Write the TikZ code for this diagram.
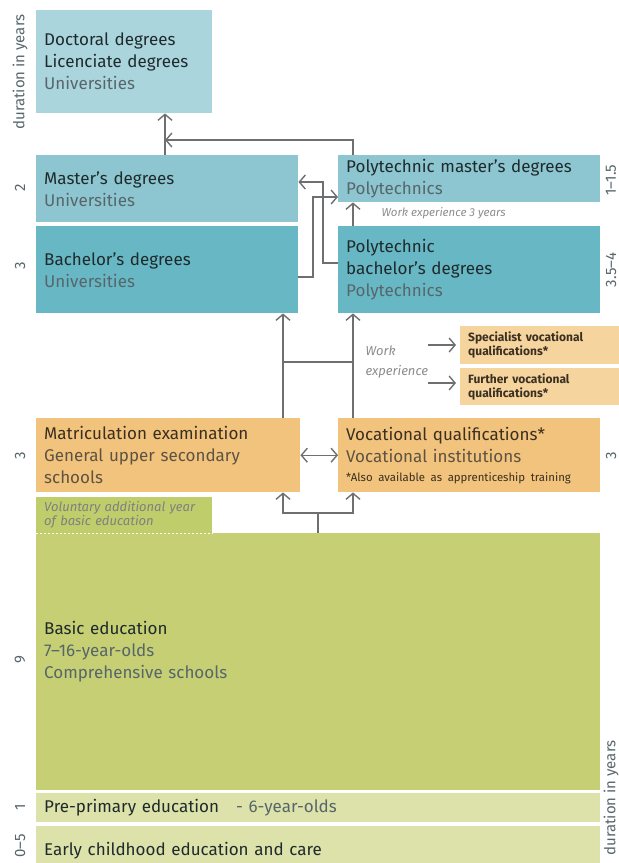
\documentclass[tikz,border=0pt]{standalone}
\usepackage{fontspec}
\setmainfont{Fira Sans}
\usetikzlibrary{arrows.meta,positioning,calc}
\definecolor{EduPale}{HTML}{ABD5DD}
\definecolor{EduBlue}{HTML}{8DC6D0}
\definecolor{EduTeal}{HTML}{67B8C4}
\definecolor{EduOrange}{HTML}{F1C37C}
\definecolor{EduSand}{HTML}{F5D49D}
\definecolor{EduOlive}{HTML}{C6CF73}
\definecolor{EduMoss}{HTML}{BFCD6A}
\definecolor{EduLime}{HTML}{DCE2A9}
\definecolor{EduInk}{HTML}{1F2A2C}
\definecolor{EduMuted}{HTML}{56666A}
\definecolor{EduBark}{HTML}{3B2F22}
\definecolor{EduClay}{HTML}{5E5343}
\definecolor{EduLine}{HTML}{6E6F71}
\newcommand{\inst}[2][EduMuted]{{\color{#1}#2}}

\begin{document}
\begin{tikzpicture}[
    x=1pt, y=-1pt,
    stage/.style={
      fill=#1,
      anchor=north west,
      inner xsep=8pt,
      inner ysep=0pt,
      align=left,
      text=EduInk,
      font=\fontsize{17}{22}\selectfont
    },
    years/.style={
      rotate=90,
      font=\fontsize{15}{15}\selectfont,
      text=EduMuted
    },
    note/.style={
      font=\itshape\fontsize{13}{20}\selectfont,
      text=black!45,
      align=left
    },
    link/.style={
      -{Straight Barb[length=6pt,width=14pt]},
      line width=1.4pt,
      color=EduLine
    },
    plain/.style={
      line width=1.4pt,
      color=EduLine
    }
  ]
  \useasboundingbox (0,0) rectangle (619,863);
  \clip (0,0) rectangle (619,863);

  % higher education
  \node[stage=EduPale, text width=160pt, minimum height=103pt] (doct) at (36,10)
    {Doctoral degrees\\Licenciate degrees\\\inst{Universities}};
  \node[stage=EduBlue, text width=246pt, minimum height=67pt] (master) at (36,155)
    {Master’s degrees\\\inst{Universities}};
  \node[stage=EduTeal, text width=246pt, minimum height=87pt] (bach) at (36,226)
    {Bachelor’s degrees\\\inst{Universities}};
  \node[stage=EduBlue, text width=246pt, minimum height=47pt] (pmaster) at (338,155)
    {Polytechnic master’s degrees\\\inst{Polytechnics}};
  \node[stage=EduTeal, text width=246pt, minimum height=87pt] (pbach) at (338,226)
    {Polytechnic\\bachelor’s degrees\\\inst{Polytechnics}};

  % further vocational
  \node[stage=EduSand, text width=154pt, minimum height=38pt, text=EduBark,
        font=\bfseries\fontsize{12}{14}\selectfont] (spec) at (460,326)
    {Specialist vocational\\qualifications*};
  \node[stage=EduSand, text width=154pt, minimum height=37pt, text=EduBark,
        font=\bfseries\fontsize{12}{14}\selectfont] (further) at (460,368)
    {Further vocational\\qualifications*};

  % upper secondary
  \node[stage=EduOrange, text width=248pt, minimum height=74pt, text=EduBark] (matric) at (36,418)
    {Matriculation examination\\\inst[EduClay]{General upper secondary}\\\inst[EduClay]{schools}};
  \node[stage=EduOrange, text width=246pt, minimum height=74pt, text=EduBark] (voc) at (338,418)
    {Vocational qualifications*\\\inst[EduClay]{Vocational institutions}\\[-3pt]
     \mbox{\fontsize{11.4}{13}\selectfont *Also available as apprenticeship training}};

  % basic and early education
  \node[stage=EduMoss, text width=160pt, minimum height=36pt, text=black!50,
        font=\itshape\fontsize{13}{14}\selectfont] (volun) at (36,497)
    {Voluntary additional year\\of basic education};
  \node[stage=EduOlive, text width=548pt, minimum height=257pt, text depth=68pt] (basic) at (36,533)
    {Basic education\\\inst{7–16-year-olds}\\\inst{Comprehensive schools}};
  \node[stage=EduLime, text width=548pt, minimum height=29pt] (prepri) at (36,793)
    {Pre-primary education\quad\inst{- 6-year-olds}};
  \node[stage=EduLime, text width=548pt, minimum height=48pt] (early) at (36,826)
    {Early childhood education and care};
  \draw[white, line width=0.8pt, dash pattern=on 2pt off 2pt]
    (volun.south west) -- (volun.south east);

  % durations
  \node[years] (ldur) at (20,72)  {duration in years};
  \node[years] (l2)   at (20,188) {2};
  \node[years] (l3a)  at (20,266) {3};
  \node[years] (l3b)  at (20,456) {3};
  \node[years] (l9)   at (20,660) {9};
  \node[years] (l1)   at (20,807) {1};
  \node[years] (l05)  at (20,846) {0–5};
  \node[years] (r15)  at (611,180) {1–1.5};
  \node[years] (r35)  at (611,270) {3.5–4};
  \node[years] (r3)   at (611,456) {3};
  \node[years] (rdur) at (611,798) {duration in years};

  % notes
  \node[note, anchor=west, font=\itshape\fontsize{11.5}{12}\selectfont] (wexp3) at (378,213)
    {Work experience 3 years};
  \node[note, anchor=north west] (wexp) at (362,342) {Work\\experience};

  % columns and junctions
  \coordinate (ucol) at (165,140);
  \coordinate (pcol) at (353,0);
  \coordinate (mcol) at (283,0);
  \coordinate (cross1) at (323,182);
  \coordinate (cross2) at (313,197);
  \coordinate (hbar) at (0,362);
  \coordinate (fork) at (318,513);
  \coordinate (wx1) at (428,345);
  \coordinate (wx2) at (428,383);

  \draw[link] (master.north -| ucol) -- (doct.south -| ucol);
  \draw[link] (pmaster.north -| pcol) |- (ucol);
  \draw[link] (pbach.north -| pcol) -- (pmaster.south -| pcol);
  \draw[link] (pbach.west |- 0,263) -| (cross1) -- (master.east |- cross1);
  \draw[link] (bach.east |- 0,277) -| (cross2) -- (pmaster.west |- cross2);

  \draw[link] (matric.north -| mcol) -- (bach.south -| mcol);
  \draw[link] (voc.north -| pcol) -- (pbach.south -| pcol);
  \draw[plain] (mcol |- hbar) -- (pcol |- hbar);
  \draw[link, {Straight Barb[length=6pt,width=14pt]}-{Straight Barb[length=6pt,width=14pt]}]
    (matric.east) -- (voc.west);

  \draw[plain] (basic.north -| fork) -- (fork);
  \draw[link] (fork) -| (matric.south -| mcol);
  \draw[link] (fork) -| (voc.south -| pcol);

  \draw[link, shorten >=4pt] (wx1) -- (spec.west |- wx1);
  \draw[link, shorten >=4pt] (wx2) -- (further.west |- wx2);

\end{tikzpicture}
\end{document}
